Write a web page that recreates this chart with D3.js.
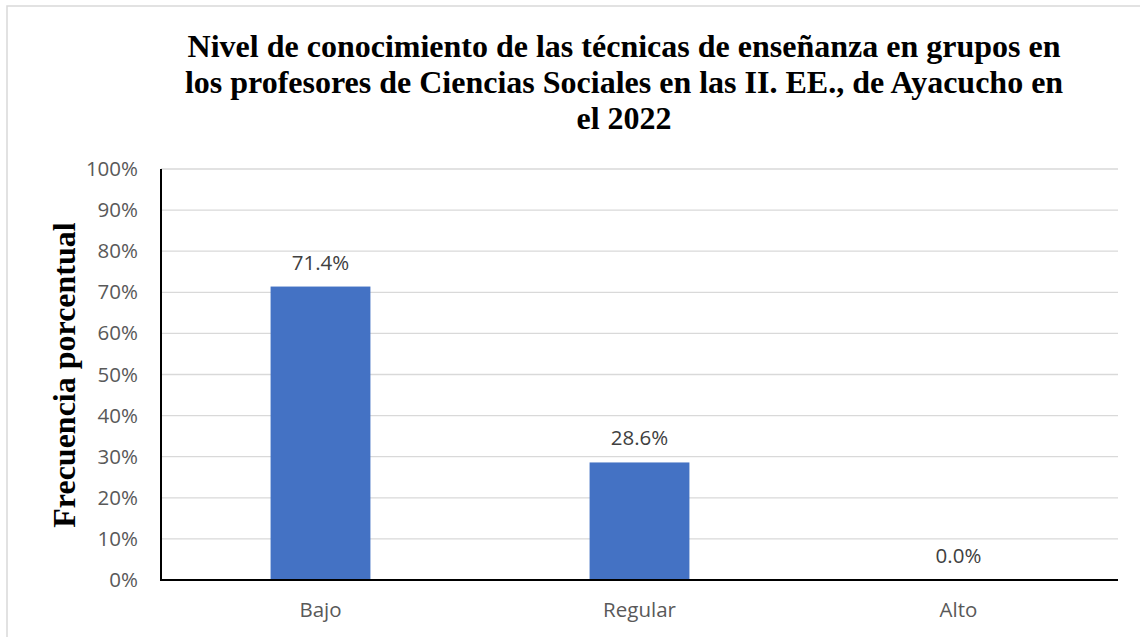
<!DOCTYPE html>
<html><head><meta charset="utf-8">
<script src="https://cdn.jsdelivr.net/npm/d3@7/dist/d3.min.js"></script>
<style>body{margin:0;background:#fff}</style>
</head><body>
<svg id="c" width="1140" height="637"></svg>
<script>
const categories = ["Bajo", "Regular", "Alto"];
const values = [71.4, 28.6, 0.0];
const yTicks = [0,10,20,30,40,50,60,70,80,90,100];
const titleLines = ["Nivel de conocimiento de las técnicas de enseñanza en grupos en",
  "los profesores de Ciencias Sociales en las II. EE., de Ayacucho en", "el 2022"];
const yLabel = "Frecuencia porcentual";

const svg = d3.select("#c");
svg.append("rect").attr("x",7).attr("y",6).attr("width",1140).attr("height",640)
  .attr("fill","#fff").attr("stroke","#d9d9d9").attr("stroke-width",1.5);

const m = {l:161, r:1118, t:169, b:580};
const x = d3.scaleBand().domain(categories).range([m.l,m.r]).paddingInner(0.687).paddingOuter(0.3435);
const y = d3.scaleLinear().domain([0,100]).range([m.b,m.t]);

// gridlines
svg.append("g").selectAll("line").data(yTicks.filter(d=>d>0)).join("line")
  .attr("x1",m.l).attr("x2",m.r).attr("y1",d=>y(d)).attr("y2",d=>y(d))
  .attr("stroke","#d9d9d9").attr("stroke-width",1.3);

// y tick labels
const ya = svg.append("g").attr("transform",`translate(${m.l},0)`)
  .call(d3.axisLeft(y).tickValues(yTicks).tickFormat(d=>d+"%").tickSize(0).tickPadding(23));
ya.select(".domain").remove();
ya.selectAll("text").attr("font-family","'Open Sans', sans-serif").attr("font-size",20.5).attr("fill","#595959");

// bars
svg.append("g").selectAll("rect").data(values).join("rect")
  .attr("x",(d,i)=>x(categories[i])).attr("width",x.bandwidth())
  .attr("y",d=>y(d)).attr("height",d=>y(0)-y(d)).attr("fill","#4472c4");

// data labels
svg.append("g").selectAll("text").data(values).join("text")
  .attr("x",(d,i)=>x(categories[i])+x.bandwidth()/2).attr("y",d=>y(d)-17)
  .attr("text-anchor","middle").attr("font-family","'Open Sans', sans-serif").attr("font-size",20.5)
  .attr("fill","#404040").text(d=>d.toFixed(1)+"%");

// x axis
const xa = svg.append("g").attr("transform",`translate(0,${m.b})`)
  .call(d3.axisBottom(x).tickSize(0).tickPadding(22));
xa.select(".domain").remove();
xa.selectAll("text").attr("font-family","'Open Sans', sans-serif").attr("font-size",20.5).attr("fill","#595959");

// axis lines
svg.append("line").attr("x1",m.l).attr("x2",m.l).attr("y1",m.t).attr("y2",m.b+1).attr("stroke","#000").attr("stroke-width",2);
svg.append("line").attr("x1",m.l).attr("x2",m.r).attr("y1",m.b).attr("y2",m.b).attr("stroke","#000").attr("stroke-width",2);

// title
svg.append("g").selectAll("text").data(titleLines).join("text")
  .attr("x",624).attr("y",(d,i)=>57+i*36).attr("text-anchor","middle")
  .attr("font-family","'Liberation Serif', serif").attr("font-weight","bold").attr("font-size",32)
  .attr("fill","#000").text(d=>d);

// y label
svg.append("text").attr("transform",`translate(75,375) rotate(-90)`).attr("text-anchor","middle")
  .attr("font-family","'Liberation Serif', serif").attr("font-weight","bold").attr("font-size",32)
  .attr("fill","#000").text(yLabel);
</script>
</body></html>
